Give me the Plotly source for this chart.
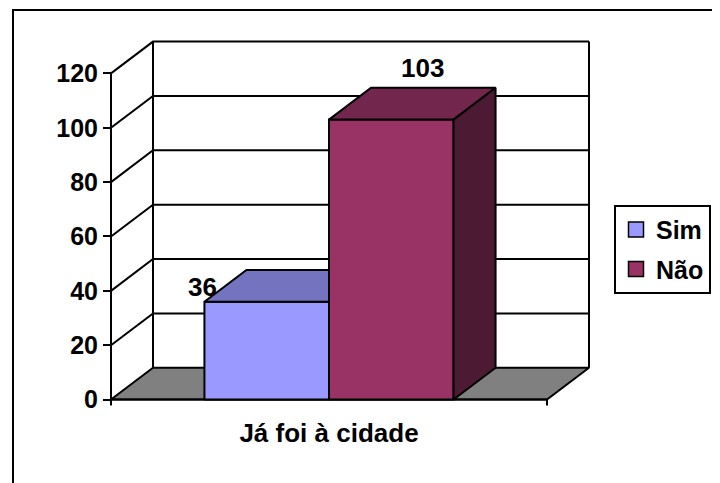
import plotly.graph_objects as go

# ---------------- data ----------------
categories = ["Já foi à cidade"]
series = ["Sim", "Não"]
values = [36, 103]
y_ticks = [0, 20, 40, 60, 80, 100, 120]

# ---------------- style ----------------
front_colors = ["#9999FF", "#993366"]
top_colors = ["#7373BF", "#73264D"]
side_colors = ["#4D4D80", "#4D1A33"]
floor_color = "#808080"
FONT = "Liberation Sans, Arial, sans-serif"

W, H = 720, 483
PAGE_OFF = 8                   # default body margin of the html page
X0_PX, X1_PX = 111, 547        # front edge of the category (screen px)
Y0_PX, YTOP_PX = 402, 73.8     # screen px of y=0 and y=max tick
DEPTH_DX_PX, DEPTH_DY_PX = 42, 32

ymax = max(y_ticks)
px_x = X1_PX - X0_PX
px_y = (Y0_PX - YTOP_PX) / ymax
dx = DEPTH_DX_PX / px_x
dy = DEPTH_DY_PX / px_y

gap = 1.5
bw = 1 / (len(values) + gap)
lefts = [gap / 2 * bw + i * bw for i in range(len(values))]

xr = [-0.03, 1 + dx + 0.02]
yr = [-4, ymax + dy + 2]
pl = X0_PX + xr[0] * px_x
pr = X0_PX + xr[1] * px_x
pb = Y0_PX - yr[0] * px_y
pt = Y0_PX - yr[1] * px_y


def paper_x(px):
    return (px - PAGE_OFF) / W


def paper_y(py):
    return 1 - (py - PAGE_OFF) / H


LINE = dict(color="black", width=2)
fig = go.Figure()

# back wall gridlines (with diagonal on the left side wall)
gx, gy = [], []
for v in y_ticks:
    if v == 0:
        continue
    gx += [0, dx, 1 + dx, None]
    gy += [v, v + dy, v + dy, None]
gx += [dx, dx, None, 1 + dx, 1 + dx, None]
gy += [dy, ymax + dy, None, dy, ymax + dy, None]
fig.add_trace(go.Scatter(x=gx, y=gy, mode="lines", line=LINE,
                         showlegend=False, hoverinfo="skip"))

# floor
fig.add_trace(go.Scatter(x=[0, 1, 1 + dx, dx, 0], y=[0, 0, dy, dy, 0],
                         mode="lines", fill="toself", fillcolor=floor_color,
                         line=LINE, showlegend=False, hoverinfo="skip"))

# front axis line, front floor line and category boundary ticks
tk = 6 / px_y
fig.add_trace(go.Scatter(
    x=[0, 0, None, 0, 1, None, 0, 0, None, 1, 1],
    y=[ymax, 0, None, 0, 0, None, 0, -tk, None, 0, -tk],
    mode="lines", line=LINE, showlegend=False, hoverinfo="skip"))

# 3D bars
for i, v in enumerate(values):
    l0 = lefts[i]
    r0 = l0 + bw
    faces = [
        ([l0, r0, r0, l0, l0], [0, 0, v, v, 0], front_colors[i]),
        ([l0, r0, r0 + dx, l0 + dx, l0], [v, v, v + dy, v + dy, v], top_colors[i]),
        ([r0, r0 + dx, r0 + dx, r0, r0], [0, dy, v + dy, v, 0], side_colors[i]),
    ]
    for fxs, fys, col in faces:
        fig.add_trace(go.Scatter(x=fxs, y=fys, mode="lines", fill="toself",
                                 fillcolor=col, line=LINE, showlegend=False,
                                 hoverinfo="skip"))

# legend entries
for i, name in enumerate(series):
    fig.add_trace(go.Scatter(x=[None], y=[None], mode="markers", name=name,
                             legendgroup=name,
                             marker=dict(symbol="square", size=15,
                                         color=front_colors[i],
                                         line=dict(color="black", width=1.5))))

# value labels
label_shift = [(-64, 15), (31, 52)]
for i, v in enumerate(values):
    fig.add_annotation(x=lefts[i] + bw / 2, y=v, text=str(v), showarrow=False,
                       xshift=label_shift[i][0], yshift=label_shift[i][1],
                       font=dict(family=FONT, size=26, color="black", weight="bold"))

# outer chart border
fig.add_shape(type="rect", xref="paper", yref="paper",
              x0=paper_x(13), x1=paper_x(W + 20), y0=paper_y(10), y1=paper_y(H + 20),
              line=dict(color="black", width=2), fillcolor="rgba(0,0,0,0)")

fig.update_layout(
    width=W, height=H,
    margin=dict(l=0, r=0, t=0, b=0, pad=0),
    paper_bgcolor="white", plot_bgcolor="white",
    font=dict(family=FONT, color="black", weight="bold"),
    xaxis=dict(range=xr, domain=[paper_x(pl), paper_x(pr)],
               tickvals=[0.5], ticktext=categories, ticks="",
               showgrid=False, zeroline=False, showline=False, fixedrange=True,
               tickfont=dict(family=FONT, size=26, color="black", weight="bold"),
               ticklabelstandoff=5),
    yaxis=dict(range=yr, domain=[paper_y(pb), paper_y(pt)],
               tickvals=y_ticks, ticks="outside", ticklen=8,
               tickwidth=2, tickcolor="black", anchor="free",
               position=paper_x(X0_PX),
               showgrid=False, zeroline=False, showline=False, fixedrange=True,
               tickfont=dict(family=FONT, size=25, color="black", weight="bold")),
    showlegend=True,
    legend=dict(x=paper_x(614), y=paper_y(206), xanchor="left", yanchor="top",
                bordercolor="black", borderwidth=2, bgcolor="white",
                font=dict(family=FONT, size=25, color="black", weight="bold"),
                traceorder="grouped", tracegroupgap=4, itemwidth=30),
)

fig.write_html("out.html")
